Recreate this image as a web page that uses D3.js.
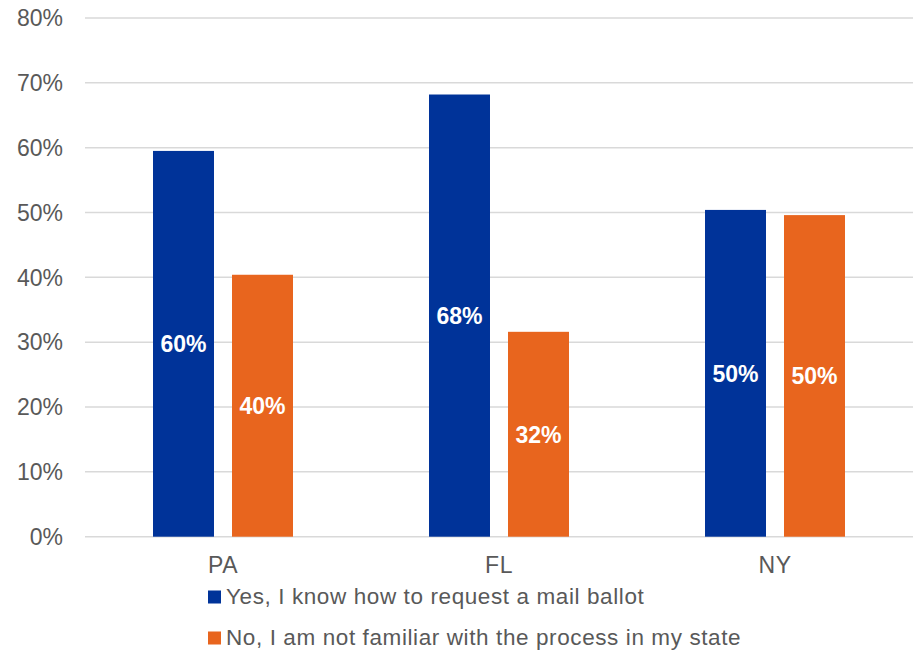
<!DOCTYPE html>
<html>
<head>
<meta charset="utf-8">
<script src="https://cdn.jsdelivr.net/npm/d3@7/dist/d3.min.js"></script>
<style>
  html, body { margin: 0; padding: 0; background: #fff; }
  svg { display: block; font-family: "Liberation Sans", Arial, sans-serif; }
</style>
</head>
<body>
<svg id="chart" width="922" height="650"></svg>
<script>
// Survey results: knowledge of how to request a mail ballot, by state
const states = ["PA", "FL", "NY"];
const seriesNames = [
  "Yes, I know how to request a mail ballot",
  "No, I am not familiar with the process in my state"
];
const yesValues = [0.595, 0.682, 0.504];
const noValues  = [0.404, 0.316, 0.496];
const yTicks = [0, 0.1, 0.2, 0.3, 0.4, 0.5, 0.6, 0.7, 0.8];
const colors = ["#003399", "#E8651E"];

const svg = d3.select("#chart");
const plotLeft = 85, plotRight = 913, plotTop = 18, plotBottom = 536.7;

const y = d3.scaleLinear().domain([0, 0.8]).range([plotBottom, plotTop]);
const x0 = d3.scaleBand().domain(states).range([plotLeft, plotRight])
  .paddingInner(0.4928).paddingOuter(0.2464);
const x1 = d3.scaleBand().domain([0, 1]).range([0, x0.bandwidth()])
  .paddingInner(0.228).paddingOuter(0);

const pct = d3.format(".0%");

// Horizontal gridlines
svg.append("g").selectAll("line").data(yTicks).join("line")
  .attr("x1", plotLeft).attr("x2", plotRight)
  .attr("y1", d => y(d)).attr("y2", d => y(d))
  .attr("stroke", "#d9d9d9").attr("stroke-width", 1.5);

// Y-axis tick labels
svg.append("g").selectAll("text").data(yTicks).join("text")
  .attr("x", 63).attr("y", d => y(d)).attr("dy", "0.36em")
  .attr("text-anchor", "end")
  .attr("fill", "#595959").attr("font-size", 23)
  .text(d => pct(d));

const rows = states.map((s, i) => ({ state: s, vals: [yesValues[i], noValues[i]] }));

const groups = svg.append("g").selectAll("g").data(rows).join("g")
  .attr("transform", d => `translate(${x0(d.state)},0)`);

const cells = groups.selectAll("g").data(d => d.vals.map((v, k) => ({ v, k }))).join("g");

cells.append("rect")
  .attr("x", d => x1(d.k))
  .attr("width", x1.bandwidth())
  .attr("y", d => y(d.v))
  .attr("height", d => y(0) - y(d.v))
  .attr("fill", d => colors[d.k]);

// Value labels in the middle of each bar
cells.append("text")
  .attr("x", d => x1(d.k) + x1.bandwidth() / 2)
  .attr("y", d => (y(d.v) + y(0)) / 2)
  .attr("dy", "0.36em")
  .attr("text-anchor", "middle")
  .attr("fill", "#fff").attr("font-weight", "bold").attr("font-size", 23)
  .text(d => pct(d.v));

// Category labels
svg.append("g").selectAll("text").data(states).join("text")
  .attr("x", d => x0(d) + x0.bandwidth() / 2)
  .attr("y", 572.7)
  .attr("text-anchor", "middle")
  .attr("fill", "#595959").attr("font-size", 23)
  .attr("letter-spacing", "0.5px")
  .text(d => d);

// Legend
const legend = svg.append("g").selectAll("g").data(seriesNames).join("g")
  .attr("transform", (d, i) => `translate(208,${603.5 + i * 41})`);
legend.append("rect")
  .attr("x", 0).attr("y", -13).attr("width", 13).attr("height", 13)
  .attr("fill", (d, i) => colors[i]);
legend.append("text")
  .attr("x", 18).attr("y", 0)
  .attr("fill", "#595959").attr("font-size", 22.5)
  .attr("letter-spacing", "0.6px")
  .text(d => d);
</script>
</body>
</html>
